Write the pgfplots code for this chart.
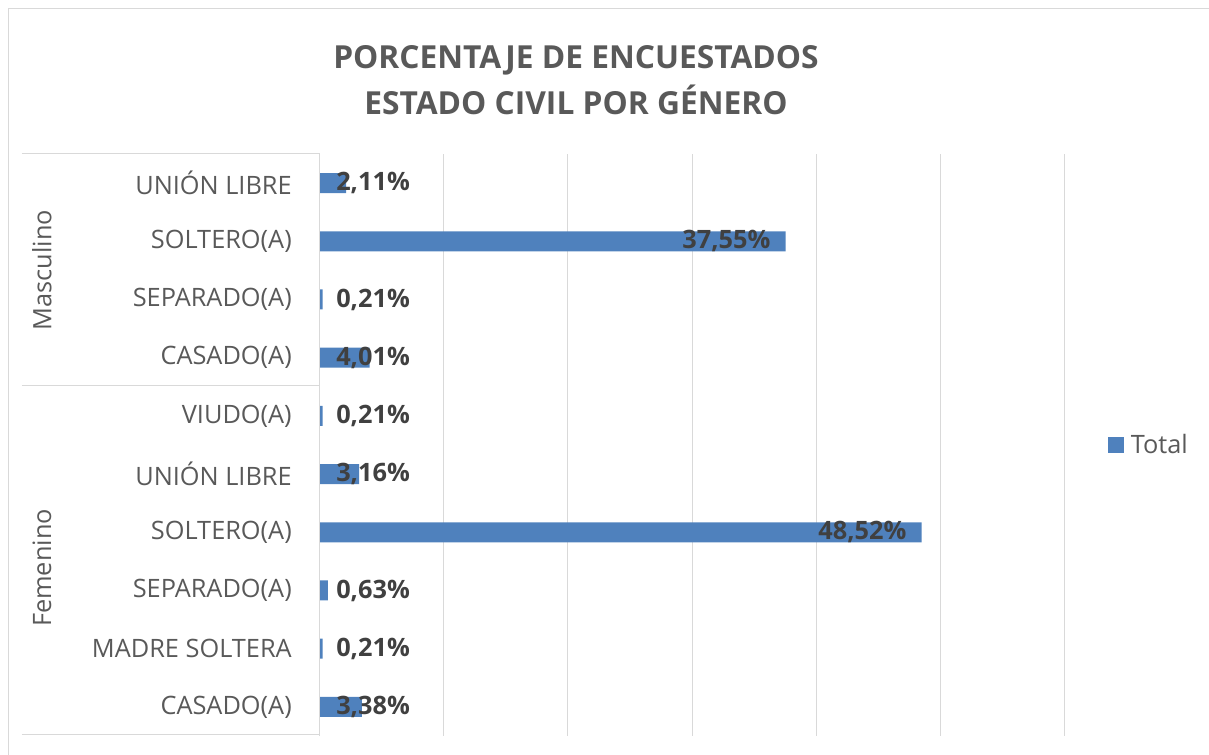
\documentclass[border=0pt]{standalone}
\usepackage{pgfplots}
\pgfplotsset{compat=1.18}
\usepackage{fontspec}
\setmainfont{Open Sans}
\definecolor{barblue}{HTML}{4F81BD}
\definecolor{gridgray}{HTML}{D9D9D9}
\definecolor{textgray}{HTML}{595959}
\definecolor{labelgray}{HTML}{404040}
\begin{document}
\begin{tikzpicture}[x=0.75pt,y=0.75pt]
\begin{scope}[shift={(-320,-19)}]
\path[use as bounding box] (0,0) rectangle (1209,755);
\draw[gridgray, line width=0.75pt] (9,0) -- (9,746) -- (1209,746);
\node[align=center, text=textgray, font=\bfseries\fontsize{23.8}{34.5}\selectfont] at (576,675) {PORCENTAJE DE ENCUESTADOS\\ESTADO CIVIL POR GÉNERO};
\draw[gridgray, line width=0.75pt] (22,601) -- (320,601);
\draw[gridgray, line width=0.75pt] (22,369) -- (320,369);
\draw[gridgray, line width=0.75pt] (22,20) -- (320,20);
\node[rotate=90, text=textgray, font=\fontsize{19}{22}\selectfont] at (42,485) {Masculino};
\node[rotate=90, text=textgray, font=\fontsize{19}{22}\selectfont] at (42,187) {Femenino};
\end{scope}
\begin{axis}[
  anchor=south west,
  scale only axis, width=558pt, height=436.5pt,
  xmin=0, xmax=60, ymin=-0.5, ymax=9.5,
  axis line style={draw=none},
  xtick={0,10,...,60}, xticklabels={},
  xmajorgrids, grid style={draw=gridgray, line width=0.75pt},
  major tick length=0pt,
  ytick={0,...,9},
  yticklabels={CASADO(A),MADRE SOLTERA,SEPARADO(A),SOLTERO(A),UNIÓN LIBRE,VIUDO(A),CASADO(A),SEPARADO(A),SOLTERO(A),UNIÓN LIBRE},
  yticklabel style={anchor=east, inner sep=0pt, xshift=-21pt, text=textgray, font=\fontsize{19}{22}\selectfont},
  legend style={at={(1.059,0.5)}, anchor=west, draw=none, fill=none, text=textgray, font=\fontsize{19}{22}\selectfont, inner sep=0pt},
  legend cell align=left,
  clip=false,
]
\addplot[xbar, bar width=15pt, fill=barblue, draw=none,
  legend image code/.code={\fill[barblue] (0pt,-6pt) rectangle (12pt,6pt); \path (15pt,0pt);}]
  coordinates {(3.38,0) (0.21,1) (0.63,2) (48.52,3) (3.16,4) (0.21,5) (4.01,6) (0.21,7) (37.55,8) (2.11,9)};
\addlegendentry{Total}
\addplot[draw=none, mark=none, forget plot, nodes near coords, point meta=explicit symbolic,
  every node near coord/.append style={anchor=west, xshift=12pt, inner sep=0pt, text=labelgray, font=\bfseries\fontsize{19}{22}\selectfont}]
  coordinates {(0,0) [3,38\%] (0,1) [0,21\%] (0,2) [0,63\%] (0,4) [3,16\%] (0,5) [0,21\%] (0,6) [4,01\%] (0,7) [0,21\%] (0,9) [2,11\%]};
\addplot[draw=none, mark=none, forget plot, nodes near coords, point meta=explicit symbolic,
  every node near coord/.append style={anchor=east, xshift=-11.25pt, inner sep=0pt, text=labelgray, font=\bfseries\fontsize{19}{22}\selectfont}]
  coordinates {(48.52,3) [48,52\%] (37.55,8) [37,55\%]};
\draw[gridgray, line width=0.75pt] (axis cs:0,-0.5) -- (axis cs:0,9.5);
\end{axis}
\end{tikzpicture}
\end{document}
